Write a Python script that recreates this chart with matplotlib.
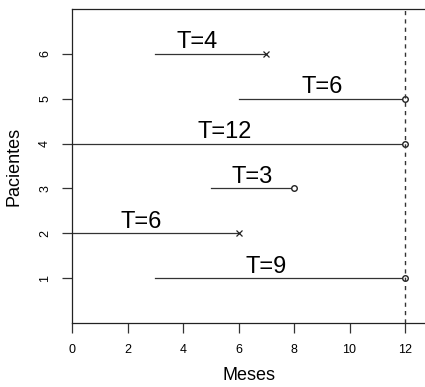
import matplotlib.pyplot as plt

plt.rcParams['font.family'] = ['Liberation Sans', 'DejaVu Sans']

# datos de seguimiento por paciente
pacientes = [1, 2, 3, 4, 5, 6]
inicio = [3, 0, 5, 0, 6, 3]
fin = [12, 6, 8, 12, 12, 7]
evento = [False, True, False, False, False, True]  # True = x, False = censurado (o)
etiquetas = ['T=9', 'T=6', 'T=3', 'T=12', 'T=6', 'T=4']
pos_etiqueta = [7.0, 2.5, 6.5, 5.5, 9.0, 4.5]
corte = 12
xticks = [0, 2, 4, 6, 8, 10, 12]
yticks = [1, 2, 3, 4, 5, 6]

fig = plt.figure(figsize=(4.25, 3.87), dpi=100)
ax = fig.add_axes([72/425, 64/387, 1 - 72/425, (323 - 9)/387])

for p, a, b, ev, lab, xl in zip(pacientes, inicio, fin, evento, etiquetas, pos_etiqueta):
    ax.plot([a, b], [p, p], color='#333333', lw=0.9)
    if ev:
        ax.plot(b, p, marker='x', color='#222222', ms=5, mew=0.9)
    else:
        ax.plot(b, p, marker='o', mfc='white', mec='#222222', ms=4, mew=1.0)
    ax.text(xl, p + 0.01, lab, ha='center', va='bottom', fontsize=17)

ax.axvline(corte, color='#333333', lw=1.0, ls=(0, (3, 3)))

ax.set_xlim(0, 12.72)
ax.set_ylim(0, 7)
ax.set_xticks(xticks)
ax.set_yticks(yticks)
ax.set_yticklabels([str(v) for v in yticks], rotation=90, va='center')
ax.tick_params(length=7, width=0.9, labelsize=9, color='#333333', pad=8)
ax.spines['right'].set_visible(False)
for s in ['left', 'bottom', 'top']:
    ax.spines[s].set_linewidth(0.9)
    ax.spines[s].set_color('#222222')

ax.set_xlabel('Meses', fontsize=13, labelpad=8)
ax.set_ylabel('Pacientes', fontsize=13, labelpad=12)

fig.savefig('out.png', dpi=100)
